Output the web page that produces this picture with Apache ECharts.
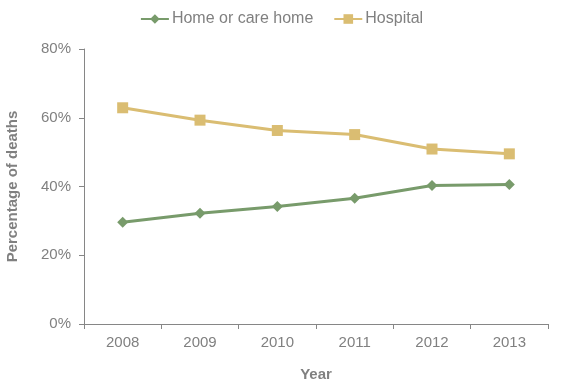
<!DOCTYPE html>
<html><head><meta charset="utf-8">
<script src="https://cdn.jsdelivr.net/npm/echarts@6/dist/echarts.min.js"></script>
<style>html,body{margin:0;padding:0;background:#fff}#c{width:563px;height:391px}</style>
</head><body><div id="c"></div>
<script>
const years = ['2008','2009','2010','2011','2012','2013'];
const homeValues = [29.6, 32.2, 34.2, 36.6, 40.3, 40.6];
const hospitalValues = [62.9, 59.3, 56.3, 55.1, 50.9, 49.5];
const seriesNames = ['Home or care home', 'Hospital'];
const yTicks = [0, 20, 40, 60, 80];

const txt = '#808080';
const axisCol = '#868686';
const chart = echarts.init(document.getElementById('c'), null, {renderer:'canvas'});
chart.setOption({
  animation: false,
  textStyle: {fontFamily: 'Liberation Sans, Arial, sans-serif'},
  legend: {
    top: 6, left: 'center', itemWidth: 28, itemHeight: 12, itemGap: 20,
    textStyle: {color: txt, fontSize: 16, fontFamily: 'Liberation Sans', padding: [0,0,0,-2]},
    data: seriesNames
  },
  grid: {left: 84, right: 15, top: 49, bottom: 67, containLabel: false, outerBoundsMode: 'none'},
  xAxis: {
    type: 'category', data: years, boundaryGap: true,
    name: 'Year', nameLocation: 'middle', nameGap: 43,
    nameTextStyle: {color: txt, fontSize: 15, fontWeight: 'bold'},
    axisLine: {lineStyle: {color: axisCol}},
    axisTick: {show: true, length: 5, lineStyle: {color: axisCol}, alignWithLabel: false},
    axisLabel: {color: txt, fontSize: 15, margin: 11}
  },
  yAxis: {
    type: 'value', min: 0, max: 80, interval: 20,
    name: 'Percentage of deaths', nameLocation: 'middle', nameGap: 64,
    nameTextStyle: {color: txt, fontSize: 15, fontWeight: 'bold'},
    axisLine: {show: true, lineStyle: {color: axisCol}},
    axisTick: {show: true, length: 5, lineStyle: {color: axisCol}},
    splitLine: {show: false},
    axisLabel: {color: txt, fontSize: 15, margin: 13, formatter: v => yTicks.includes(v) ? v + '%' : ''}
  },
  series: [
    {name: seriesNames[0], type: 'line', data: homeValues, symbol: 'diamond', symbolSize: 11,
     itemStyle: {color: '#789B6B'}, lineStyle: {color: '#789B6B', width: 3}},
    {name: seriesNames[1], type: 'line', data: hospitalValues, symbol: 'rect', symbolSize: 11,
     itemStyle: {color: '#DABD72'}, lineStyle: {color: '#DABD72', width: 3}}
  ]
});
</script></body></html>
